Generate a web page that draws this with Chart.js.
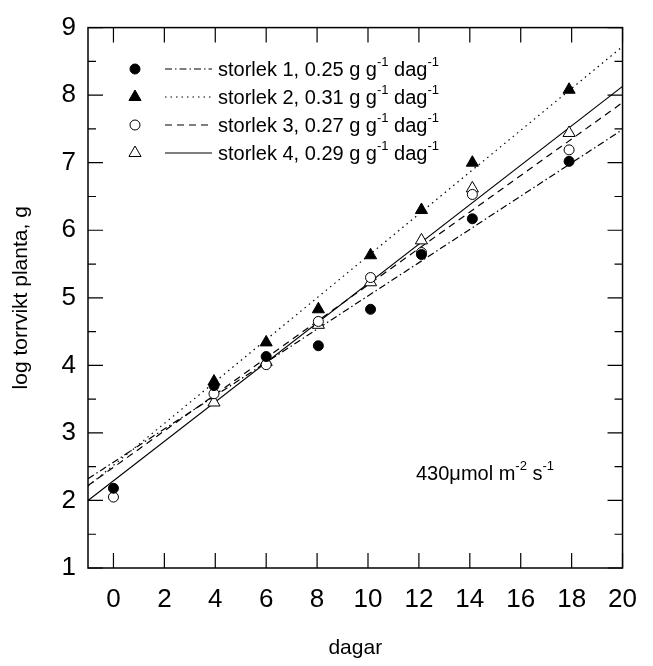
<!DOCTYPE html>
<html><head><meta charset="utf-8">
<script src="https://cdn.jsdelivr.net/npm/chart.js@4/dist/chart.umd.min.js"></script>
<style>html,body{margin:0;padding:0;background:#fff}</style>
</head><body>
<canvas id="c" width="653" height="666" style="width:653px;height:666px;display:block"></canvas>
<script>
// ---- data ----
const seriesNames = ['storlek 1, 0.25 g g', 'storlek 2, 0.31 g g', 'storlek 3, 0.27 g g', 'storlek 4, 0.29 g g'];
const days = [0, 3.95, 6, 8.05, 10.1, 12.1, 14.1, 17.9];
const size1 = [2.18, 3.70, 4.13, 4.29, 4.83, 5.64, 6.17, 7.02];
const size2 = [null, 3.76, 4.34, 4.83, 5.63, 6.30, 7.00, 8.08];
const size3 = [2.05, 3.58, 4.01, 4.65, 5.30, 5.67, 6.53, 7.19];
const size4 = [null, 3.45, 4.05, 4.60, 5.23, 5.85, 6.62, 7.44];
const fitX = [-1, 20];
const fit1 = [2.32, 7.49];
const fit2 = [2.21, 8.72];
const fit3 = [2.22, 7.89];
const fit4 = [2.00, 8.13];
const xTicks = [0, 2, 4, 6, 8, 10, 12, 14, 16, 18, 20];
const yTicks = [1, 2, 3, 4, 5, 6, 7, 8, 9];
const yMinor = [1.5, 2.5, 3.5, 4.5, 5.5, 6.5, 7.5, 8.5];
const annotationText = '430\u03bcmol m';

const FONT = '"Liberation Sans", Arial, sans-serif';
const toPts = (xs, ys) => xs.map((x, i) => ({x, y: ys[i]})).filter(p => p.y !== null);

const markerStyles = [
  {pointStyle: 'circle', radius: 5, bg: '#000'},
  {pointStyle: 'triangle', radius: 7, bg: '#000'},
  {pointStyle: 'circle', radius: 5, bg: '#fff'},
  {pointStyle: 'triangle', radius: 7, bg: '#fff'}
];
const dashes = [[7, 3, 1.5, 3], [1.5, 4], [7, 5], []];
const pointSets = [size1, size2, size3, size4];
const fitSets = [fit1, fit2, fit3, fit4];

const datasets = [];
fitSets.forEach((f, i) => {
  datasets.push({
    data: toPts(fitX, f), showLine: true, borderColor: '#000', borderWidth: 1.2,
    borderDash: dashes[i], pointRadius: 0, fill: false, order: 5
  });
});
pointSets.forEach((s, i) => {
  const m = markerStyles[i];
  datasets.push({
    data: toPts(days, s), showLine: false, pointStyle: m.pointStyle, pointRadius: m.radius,
    pointBackgroundColor: m.bg, pointBorderColor: '#000', pointBorderWidth: 1, order: 0
  });
});

function drawSupText(ctx, x, y, parts) {
  let cx = x;
  parts.forEach(([t, sup]) => {
    ctx.font = (sup ? '13px ' : '20px ') + FONT;
    ctx.fillText(t, cx, sup ? y - 8 : y);
    cx += ctx.measureText(t).width;
  });
}

const framePlugin = {
  id: 'frame',
  afterDraw(chart) {
    const ctx = chart.ctx, a = chart.chartArea;
    const xs = chart.scales.x, ys = chart.scales.y;
    ctx.save();
    ctx.strokeStyle = '#000';
    ctx.lineWidth = 1.5;
    ctx.setLineDash([]);
    ctx.strokeRect(a.left, a.top, a.right - a.left, a.bottom - a.top);
    ctx.lineWidth = 1.2;
    ctx.beginPath();
    xTicks.forEach(v => {
      const px = xs.getPixelForValue(v);
      ctx.moveTo(px, a.bottom); ctx.lineTo(px, a.bottom - 15);
      ctx.moveTo(px, a.top); ctx.lineTo(px, a.top + 15);
    });
    yTicks.forEach(v => {
      const py = ys.getPixelForValue(v);
      ctx.moveTo(a.left, py); ctx.lineTo(a.left + 15, py);
      ctx.moveTo(a.right, py); ctx.lineTo(a.right - 15, py);
    });
    yMinor.forEach(v => {
      const py = ys.getPixelForValue(v);
      ctx.moveTo(a.left, py); ctx.lineTo(a.left + 8, py);
      ctx.moveTo(a.right, py); ctx.lineTo(a.right - 8, py);
    });
    ctx.stroke();

    // legend
    const rowY = [69, 97, 125, 153];
    ctx.textBaseline = 'middle';
    ctx.textAlign = 'left';
    seriesNames.forEach((name, i) => {
      const y = rowY[i];
      const m = markerStyles[i];
      ctx.fillStyle = m.bg; ctx.strokeStyle = '#000'; ctx.lineWidth = 1;
      Chart.helpers.drawPoint(ctx, {pointStyle: m.pointStyle, radius: m.radius, borderWidth: 1}, 135, y);
      ctx.beginPath();
      ctx.lineWidth = 1.2;
      ctx.setLineDash(dashes[i]);
      ctx.moveTo(165, y); ctx.lineTo(212, y);
      ctx.stroke();
      ctx.setLineDash([]);
      ctx.fillStyle = '#000';
      drawSupText(ctx, 218, y + 1, [[name, false], ['-1', true], [' dag', false], ['-1', true]]);
    });
    // annotation
    drawSupText(ctx, 416, 474, [[annotationText, false], ['-2', true], [' s', false], ['-1', true]]);
    ctx.restore();
  }
};

new Chart(document.getElementById('c'), {
  type: 'scatter',
  data: {datasets},
  plugins: [framePlugin],
  options: {
    responsive: false, animation: false, devicePixelRatio: 1,
    layout: {padding: {top: 24, right: 20, left: 0, bottom: 0}},
    plugins: {legend: {display: false}, tooltip: {enabled: false}},
    scales: {
      x: {
        type: 'linear', min: -1, max: 20,
        grid: {display: false, drawTicks: false}, border: {display: false},
        afterBuildTicks: s => { s.ticks = xTicks.map(v => ({value: v})); },
        afterFit: s => { s.height = 98; },
        ticks: {color: '#000', font: {family: FONT, size: 26}, padding: 16, maxRotation: 0, autoSkip: false},
        title: {display: true, text: 'dagar', color: '#000', font: {family: FONT, size: 21}, padding: {top: 0, bottom: 5}}
      },
      y: {
        type: 'linear', min: 1, max: 9,
        grid: {display: false, drawTicks: false}, border: {display: false},
        afterBuildTicks: s => { s.ticks = yTicks.map(v => ({value: v})); },
        afterFit: s => { s.width = 88; },
        ticks: {color: '#000', font: {family: FONT, size: 26}, padding: 12, autoSkip: false},
        title: {display: true, text: 'log torrvikt planta, g', color: '#000', font: {family: FONT, size: 21}, padding: {top: 9, bottom: 0}}
      }
    }
  }
});
</script>
</body></html>
